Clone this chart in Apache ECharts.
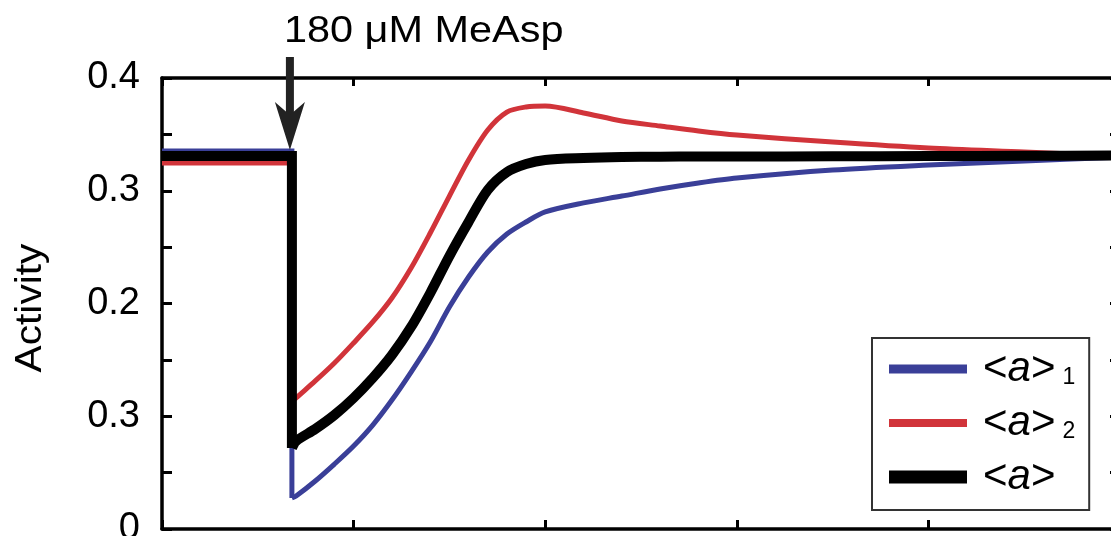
<!DOCTYPE html>
<html>
<head>
<meta charset="utf-8">
<script src="https://cdn.jsdelivr.net/npm/echarts@6/dist/echarts.min.js"></script>
<style>
html,body{margin:0;padding:0;background:#fff;}
#chart{width:1111px;height:536px;}
</style>
</head>
<body>
<div id="chart"></div>
<script>
// ---------- data ----------
const stimulusLabel = '180 \u03bcM MeAsp';
const stimulusTime = 0.678;
const timePoints = [0.7, 0.8, 0.9, 1.0, 1.1, 1.2, 1.3, 1.4, 1.5, 1.6, 1.7, 1.8, 1.9, 2.0, 2.2, 2.4, 2.6, 2.8, 3.0, 3.5, 4.0, 4.5, 5.0];
const seriesNames = ['<a>1', '<a>2', '<a>'];
const preLevels = [0.3353, 0.3246, 0.3308];
const stepMins = [0.0275, 0.1126, 0.0718];
const blueVals = [0.0293, 0.0426, 0.0576, 0.0736, 0.0922, 0.1144, 0.1392, 0.1659, 0.1969, 0.2235, 0.2457, 0.2616, 0.2723, 0.2812, 0.2892, 0.2953, 0.3016, 0.3069, 0.3113, 0.3184, 0.3228, 0.3264, 0.3299];
const redVals = [0.1162, 0.1313, 0.1472, 0.1650, 0.1836, 0.2049, 0.2315, 0.2625, 0.2953, 0.3273, 0.3539, 0.3698, 0.3743, 0.3752, 0.3690, 0.3619, 0.3574, 0.3530, 0.3494, 0.3432, 0.3379, 0.3344, 0.3308];
const blackVals = [0.0780, 0.0887, 0.1011, 0.1162, 0.1339, 0.1543, 0.1792, 0.2093, 0.2421, 0.2723, 0.3007, 0.3166, 0.3237, 0.3273, 0.3290, 0.3299, 0.3302, 0.3304, 0.3304, 0.3306, 0.3308, 0.3310, 0.3313];
const yTickLabels = ['0', '0.3', '0.2', '0.3', '0.4'];
const yAxisName = 'Activity';

// ---------- build ----------
const colors = ['#3a3f98', '#d1343a', '#000000'];
const widths = [5, 5, 10];
const allVals = [blueVals, redVals, blackVals];
const FONT = '"Liberation Sans", Arial, Helvetica, sans-serif';

function stepData(i) {
  return [[0, preLevels[i]], [stimulusTime, preLevels[i]], [stimulusTime, stepMins[i]]];
}
function recoveryData(i) {
  const d = [[stimulusTime, stepMins[i]]];
  timePoints.forEach((t, k) => d.push([t, allVals[i][k]]));
  return d;
}

const legendIcons = [
  'path://M0,0M78,13M0,2h78v9h-78z',
  'path://M0,0M78,13M0,2.5h78v8h-78z',
  'path://M0,0M78,13M0,0h78v13h-78z'
];

const axisLineStyle = { color: '#000', width: 3.5 };
const tickStyle = { color: '#000', width: 3 };

function yLabel(v) {
  const idx = Math.round(v / 0.05);
  if (idx % 2 !== 0) return '';
  return yTickLabels[idx / 2] || '';
}

const series = [];
seriesNames.forEach((n, i) => {
  series.push({
    name: n, type: 'line', data: stepData(i), showSymbol: false, symbol: 'none', smooth: false,
    lineStyle: { color: colors[i], width: widths[i], join: 'miter' }, itemStyle: { color: colors[i] }, z: 2 + i
  });
  series.push({
    name: n, type: 'line', data: recoveryData(i), showSymbol: false, symbol: 'none', smooth: 0.3,
    lineStyle: { color: colors[i], width: widths[i], join: 'round' }, itemStyle: { color: colors[i] }, z: 2 + i
  });
});

const chart = echarts.init(document.getElementById('chart'), null, { renderer: 'canvas' });
const option = {
  animation: false,
  backgroundColor: '#fff',
  color: colors,
  grid: { left: 162, top: 78, width: 958, bottom: 7, containLabel: false, outerBoundsMode: 'none' },
  xAxis: [
    { type: 'value', position: 'bottom', min: 0, max: 5, interval: 1,
      axisLine: { show: true, onZero: false, lineStyle: axisLineStyle },
      axisTick: { show: true, inside: true, length: 9, lineStyle: tickStyle },
      axisLabel: { show: false }, splitLine: { show: false } },
    { type: 'value', position: 'top', min: 0, max: 5, interval: 1,
      axisLine: { show: true, onZero: false, lineStyle: axisLineStyle },
      axisTick: { show: true, inside: true, length: 8, lineStyle: tickStyle },
      axisLabel: { show: false }, splitLine: { show: false } }
  ],
  yAxis: [
    { type: 'value', position: 'left', min: 0, max: 0.4, interval: 0.05,
      axisLine: { show: true, onZero: false, lineStyle: axisLineStyle },
      axisTick: { show: true, inside: true, length: 10, lineStyle: tickStyle },
      axisLabel: { show: true, formatter: yLabel, color: '#000', fontSize: 38, fontFamily: FONT, margin: 22, padding: [0, 0, 8, 0] },
      splitLine: { show: false } },
    { type: 'value', position: 'right', min: 0, max: 0.4, interval: 0.05,
      axisLine: { show: true, onZero: false, lineStyle: axisLineStyle },
      axisTick: { show: true, inside: true, length: 10, lineStyle: tickStyle },
      axisLabel: { show: false }, splitLine: { show: false } }
  ],
  legend: {
    orient: 'vertical', left: 872, top: 338,
    padding: [10, 14, 12, 17],
    borderColor: '#333', borderWidth: 2, backgroundColor: '#fff',
    itemWidth: 78, itemHeight: 13, itemGap: 12,
    itemStyle: { borderWidth: 0 },
    selectedMode: false,
    data: seriesNames.map((n, i) => ({ name: n, icon: legendIcons[i] })),
    formatter: function (name) {
      const m = name.match(/^<a>(\d?)$/);
      let s = '{f|<}{i|a}{n|>}';
      if (m && m[1]) s += '{s|' + m[1] + '}';
      return s;
    },
    textStyle: {
      color: '#000', fontFamily: FONT, fontSize: 42, lineHeight: 40,
      rich: {
        f: { fontSize: 42, lineHeight: 40, fontFamily: FONT, color: '#000', padding: [0, 0, 0, 11] },
        n: { fontSize: 42, lineHeight: 40, fontFamily: FONT, color: '#000' },
        i: { fontSize: 42, lineHeight: 40, fontFamily: FONT, fontStyle: 'italic', color: '#000' },
        s: { fontSize: 23, lineHeight: 22, fontFamily: FONT, color: '#000', verticalAlign: 'bottom', padding: [0, 0, 0, 7] }
      }
    }
  },
  series: series
};
chart.setOption(option);

// annotation: arrow + label, positioned through the axes
const arrowTop = chart.convertToPixel({ gridIndex: 0 }, [stimulusTime, 0.4]);
const ax = arrowTop[0] - 2, ay = arrowTop[1];
chart.setOption({
  graphic: [
    { type: 'rect', shape: { x: ax - 4, y: ay - 21, width: 8, height: 60 }, style: { fill: '#222' }, z: 20 },
    { type: 'polygon', shape: { points: [[ax - 15, ay + 24], [ax, ay + 37], [ax + 15, ay + 24], [ax, ay + 72]] }, style: { fill: '#222' }, z: 20 },
    { type: 'text', x: ax - 6, y: 32, scaleX: 1.12, style: { text: stimulusLabel, fill: '#000', font: '37px ' + FONT, textAlign: 'left', textVerticalAlign: 'middle' }, z: 20 },
    { type: 'text', x: 31, y: 308, rotation: Math.PI / 2, scaleX: 1.1, style: { text: yAxisName, fill: '#000', font: '37px ' + FONT, textAlign: 'center', textVerticalAlign: 'middle' }, z: 20 }
  ]
});
</script>
</body>
</html>
